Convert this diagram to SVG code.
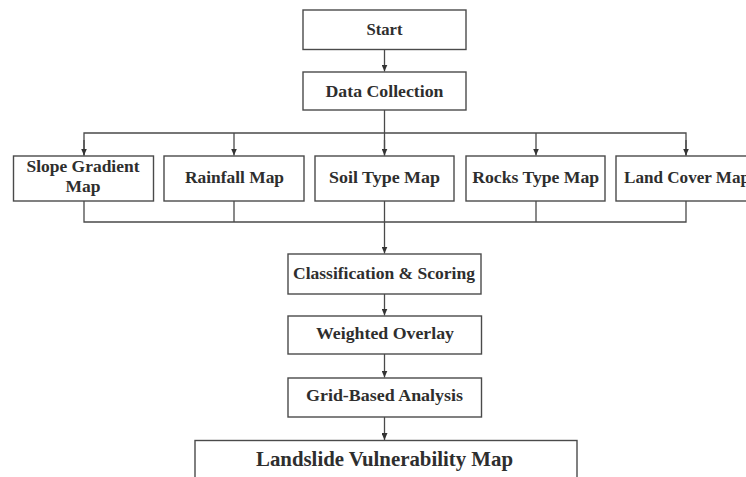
<svg xmlns="http://www.w3.org/2000/svg" width="746" height="477" viewBox="0 0 746 477">
<style>
.box{fill:#fff;stroke:#4a4a4a;stroke-width:1.4}
.t{font-family:"Liberation Serif","Times New Roman",serif;font-weight:bold;font-size:16.5px;fill:#2e2e2e;text-anchor:middle}
.big{font-size:21px}
.ln{fill:none;stroke:#4a4a4a;stroke-width:1.3}
</style>
<defs>
<marker id="ah" markerWidth="7" markerHeight="6" refX="7" refY="3" orient="auto" markerUnits="userSpaceOnUse" viewBox="0 0 7 6">
<path d="M0,0 L7,3 L0,6 Z" fill="#333"/>
</marker>
</defs>
<rect width="746" height="477" fill="#fff"/>
<g id="connectors">
<line class="ln" x1="384.5" y1="49.5" x2="384.5" y2="71.5" marker-end="url(#ah)"/>
<line class="ln" x1="384.5" y1="110" x2="384.5" y2="155.5"/>
<polyline class="ln" points="84,155.5 84,133 686,133 686,155.5"/>
<line class="ln" x1="84" y1="140" x2="84" y2="155.5" marker-end="url(#ah)"/>
<line class="ln" x1="234" y1="133" x2="234" y2="155.5" marker-end="url(#ah)"/>
<line class="ln" x1="384.5" y1="140" x2="384.5" y2="155.5" marker-end="url(#ah)"/>
<line class="ln" x1="536" y1="133" x2="536" y2="155.5" marker-end="url(#ah)"/>
<line class="ln" x1="686" y1="140" x2="686" y2="155.5" marker-end="url(#ah)"/>
<polyline class="ln" points="84,201 84,222 686,222 686,201"/>
<line class="ln" x1="234" y1="201" x2="234" y2="222"/>
<line class="ln" x1="536" y1="201" x2="536" y2="222"/>
<line class="ln" x1="384.5" y1="201" x2="384.5" y2="253.5" marker-end="url(#ah)"/>
<line class="ln" x1="384.5" y1="294" x2="384.5" y2="315.5" marker-end="url(#ah)"/>
<line class="ln" x1="384.5" y1="354" x2="384.5" y2="377.5" marker-end="url(#ah)"/>
<line class="ln" x1="384.5" y1="417" x2="384.5" y2="440" marker-end="url(#ah)"/>
</g>
<g id="start">
<rect class="box" x="303" y="10" width="163" height="39.5"/>
<text class="t" x="384.5" y="34.5" textLength="36" lengthAdjust="spacingAndGlyphs">Start</text>
</g>
<g id="data-collection">
<rect class="box" x="303" y="72" width="163" height="38"/>
<text class="t" x="384.5" y="97" textLength="118" lengthAdjust="spacingAndGlyphs">Data Collection</text>
</g>
<g id="slope">
<rect class="box" x="13.5" y="156" width="140" height="45"/>
<text class="t" x="83" y="171.7" textLength="113" lengthAdjust="spacingAndGlyphs">Slope Gradient</text>
<text class="t" x="83" y="191.7" textLength="35" lengthAdjust="spacingAndGlyphs">Map</text>
</g>
<g id="rainfall">
<rect class="box" x="164" y="156" width="140" height="45"/>
<text class="t" x="234.5" y="183" textLength="99" lengthAdjust="spacingAndGlyphs">Rainfall Map</text>
</g>
<g id="soil">
<rect class="box" x="315" y="156" width="139" height="45"/>
<text class="t" x="384.5" y="183" textLength="111" lengthAdjust="spacingAndGlyphs">Soil Type Map</text>
</g>
<g id="rocks">
<rect class="box" x="466" y="156" width="139" height="45"/>
<text class="t" x="535.7" y="183" textLength="127" lengthAdjust="spacingAndGlyphs">Rocks Type Map</text>
</g>
<g id="landcover">
<rect class="box" x="616" y="156" width="142" height="45"/>
<text class="t" x="687" y="183" textLength="126" lengthAdjust="spacingAndGlyphs">Land Cover Map</text>
</g>
<g id="classification">
<rect class="box" x="288" y="254" width="193" height="40"/>
<text class="t" x="384" y="278.5" textLength="182" lengthAdjust="spacingAndGlyphs">Classification &amp; Scoring</text>
</g>
<g id="weighted">
<rect class="box" x="288" y="316" width="193.5" height="38"/>
<text class="t" x="385" y="338.5" textLength="138" lengthAdjust="spacingAndGlyphs">Weighted Overlay</text>
</g>
<g id="grid">
<rect class="box" x="288" y="378" width="193.5" height="39"/>
<text class="t" x="384.5" y="401" textLength="157" lengthAdjust="spacingAndGlyphs">Grid-Based Analysis</text>
</g>
<g id="landslide">
<rect class="box" x="195" y="440.5" width="382" height="45"/>
<text class="t big" x="384.5" y="466" textLength="257" lengthAdjust="spacingAndGlyphs">Landslide Vulnerability Map</text>
</g>
</svg>
